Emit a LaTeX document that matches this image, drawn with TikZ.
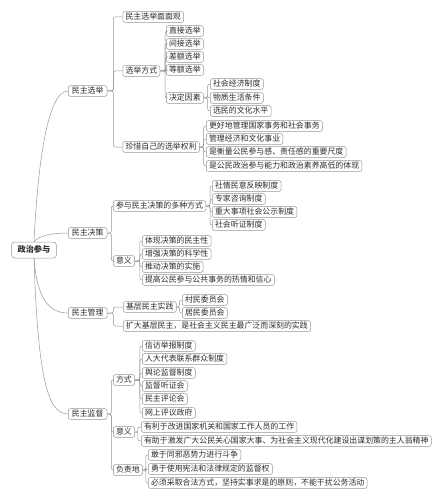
\documentclass[tikz,border=0pt]{standalone}
\usepackage{fontspec}
\setmainfont{Noto Sans CJK SC}
\usetikzlibrary{positioning}
\definecolor{linegray}{RGB}{150,150,150}
\definecolor{textgray}{RGB}{45,45,45}

\begin{document}
\begin{tikzpicture}[
    x=1pt, y=-1pt,
    topic/.style={draw=linegray, rounded corners=2pt, fill=white, text=textgray, font=\fontsize{7.9}{9}\selectfont, inner xsep=2.8pt, inner ysep=1.3pt, text height=6.6pt, text depth=1.4pt, line width=0.5pt, anchor=west},
    main/.style={topic, inner xsep=3.6pt},
    root/.style={topic, anchor=center, font=\fontsize{8.2}{10}\selectfont\bfseries, inner xsep=6pt, minimum height=16pt, rounded corners=3pt},
    link/.style={draw=linegray, line width=0.5pt, rounded corners=2pt}
]
    \useasboundingbox (0,0) rectangle (444,500);

    \node[root] (zzcy) at (34,250) {政治参与};

    \node[main] (mzxj) at (68,91) {民主选举};
    \node[main] (mzjc) at (68,233) {民主决策};
    \node[main] (mzgl) at (68,313) {民主管理};
    \node[main] (mzjd) at (68,414) {民主监督};

    % 民主选举
    \node[topic] (xjmm) at (122.5,17) {民主选举面面观};
    \node[topic] (xjfs) at (122.5,71) {选举方式};
    \node[topic] (zxql) at (122.5,147) {珍惜自己的选举权利};

    \node[topic] (zjxj) at (166,31) {直接选举};
    \node[topic] (jjxj) at (166,44) {间接选举};
    \node[topic] (cexj) at (166,57) {差额选举};
    \node[topic] (dexj) at (166,70) {等额选举};
    \node[topic] (jdys) at (166,98) {决定因素};

    \node[topic] (shjj) at (210,84) {社会经济制度};
    \node[topic] (wzsh) at (210,98) {物质生活条件};
    \node[topic] (whsp) at (210,111) {选民的文化水平};

    \node[topic] (zxa) at (206,126) {更好地管理国家事务和社会事务};
    \node[topic] (zxb) at (206,139) {管理经济和文化事业};
    \node[topic] (zxc) at (206,152) {是衡量公民参与感、责任感的重要尺度};
    \node[topic] (zxd) at (206,166) {是公民政治参与能力和政治素养高低的体现};

    % 民主决策
    \node[topic] (jcfs) at (113,206) {参与民主决策的多种方式};
    \node[topic] (jcyy) at (113,261) {意义};

    \node[topic] (sqmy) at (212,186) {社情民意反映制度};
    \node[topic] (zjzx) at (212,199) {专家咨询制度};
    \node[topic] (zdsx) at (212,212) {重大事项社会公示制度};
    \node[topic] (shtz) at (212,225) {社会听证制度};

    \node[topic] (jca) at (142,241) {体现决策的民主性};
    \node[topic] (jcb) at (142,254) {增强决策的科学性};
    \node[topic] (jcc) at (142,267) {推动决策的实施};
    \node[topic] (jcd) at (142,280) {提高公民参与公共事务的热情和信心};

    % 民主管理
    \node[topic] (jcsj) at (123,307) {基层民主实践};
    \node[topic] (kdjc) at (123,326) {扩大基层民主，是社会主义民主最广泛而深刻的实践};
    \node[topic] (cmwy) at (182,300) {村民委员会};
    \node[topic] (jmwy) at (182,313) {居民委员会};

    % 民主监督
    \node[topic] (jdfs) at (113,380) {方式};
    \node[topic] (jdyy) at (113,432) {意义};
    \node[topic] (fzd) at (113,470) {负责地};

    \node[topic] (xfjb) at (142,346) {信访举报制度};
    \node[topic] (rddb) at (142,359) {人大代表联系群众制度};
    \node[topic] (ylzd) at (142,373) {舆论监督制度};
    \node[topic] (jdtz) at (142,386) {监督听证会};
    \node[topic] (mzpl) at (142,399) {民主评论会};
    \node[topic] (wspy) at (142,413) {网上评议政府};

    \node[topic] (yya) at (141,427) {有利于改进国家机关和国家工作人员的工作};
    \node[topic] (yyb) at (141,441) {有助于激发广大公民关心国家大事、为社会主义现代化建设出谋划策的主人翁精神};

    \node[topic] (fza) at (148,455) {敢于同邪恶势力进行斗争};
    \node[topic] (fzb) at (148,469) {勇于使用宪法和法律规定的监督权};
    \node[topic] (fzc) at (148,483) {必须采取合法方式，坚持实事求是的原则，不能干扰公务活动};

    % root branches
    \draw[link] (zzcy.north) .. controls (38,160) and (48,91) .. (mzxj.west);
    \draw[link] (zzcy.north) .. controls (38,236) and (52,233) .. (mzjc.west);
    \draw[link] (zzcy.south) .. controls (37,300) and (50,313) .. (mzgl.west);
    \draw[link] (zzcy.south) .. controls (38,380) and (48,414) .. (mzjd.west);

    % brackets
    \draw[link] (mzxj.east) -- ++(6,0) |- (xjmm.west);
    \draw[link] (mzxj.east) -- ++(6,0) |- (xjfs.west);
    \draw[link] (mzxj.east) -- ++(6,0) |- (zxql.west);

    \draw[link] (xjfs.east) -- ++(5,0) |- (zjxj.west);
    \draw[link] (xjfs.east) -- ++(5,0) |- (jjxj.west);
    \draw[link] (xjfs.east) -- ++(5,0) |- (cexj.west);
    \draw[link] (xjfs.east) -- ++(5,0) |- (dexj.west);
    \draw[link] (xjfs.east) -- ++(5,0) |- (jdys.west);

    \draw[link] (jdys.east) -- ++(4,0) |- (shjj.west);
    \draw[link] (jdys.east) -- ++(4,0) |- (wzsh.west);
    \draw[link] (jdys.east) -- ++(4,0) |- (whsp.west);

    \draw[link] (zxql.east) -- ++(4,0) |- (zxa.west);
    \draw[link] (zxql.east) -- ++(4,0) |- (zxb.west);
    \draw[link] (zxql.east) -- ++(4,0) |- (zxc.west);
    \draw[link] (zxql.east) -- ++(4,0) |- (zxd.west);

    \draw[link] (mzjc.east) -- ++(4,0) |- (jcfs.west);
    \draw[link] (mzjc.east) -- ++(4,0) |- (jcyy.west);

    \draw[link] (jcfs.east) -- ++(4,0) |- (sqmy.west);
    \draw[link] (jcfs.east) -- ++(4,0) |- (zjzx.west);
    \draw[link] (jcfs.east) -- ++(4,0) |- (zdsx.west);
    \draw[link] (jcfs.east) -- ++(4,0) |- (shtz.west);

    \draw[link] (jcyy.east) -- ++(5,0) |- (jca.west);
    \draw[link] (jcyy.east) -- ++(5,0) |- (jcb.west);
    \draw[link] (jcyy.east) -- ++(5,0) |- (jcc.west);
    \draw[link] (jcyy.east) -- ++(5,0) |- (jcd.west);

    \draw[link] (mzgl.east) -- ++(6,0) |- (jcsj.west);
    \draw[link] (mzgl.east) -- ++(6,0) |- (kdjc.west);
    \draw[link] (jcsj.east) -- ++(3,0) |- (cmwy.west);
    \draw[link] (jcsj.east) -- ++(3,0) |- (jmwy.west);

    \draw[link] (mzjd.east) -- ++(4,0) |- (jdfs.west);
    \draw[link] (mzjd.east) -- ++(4,0) |- (jdyy.west);
    \draw[link] (mzjd.east) -- ++(4,0) |- (fzd.west);

    \draw[link] (jdfs.east) -- ++(5,0) |- (xfjb.west);
    \draw[link] (jdfs.east) -- ++(5,0) |- (rddb.west);
    \draw[link] (jdfs.east) -- ++(5,0) |- (ylzd.west);
    \draw[link] (jdfs.east) -- ++(5,0) |- (jdtz.west);
    \draw[link] (jdfs.east) -- ++(5,0) |- (mzpl.west);
    \draw[link] (jdfs.east) -- ++(5,0) |- (wspy.west);

    \draw[link] (jdyy.east) -- ++(3,0) |- (yya.west);
    \draw[link] (jdyy.east) -- ++(3,0) |- (yyb.west);

    \draw[link] (fzd.east) -- ++(3,0) |- (fza.west);
    \draw[link] (fzd.east) -- ++(3,0) |- (fzb.west);
    \draw[link] (fzd.east) -- ++(3,0) |- (fzc.west);
\end{tikzpicture}
\end{document}
